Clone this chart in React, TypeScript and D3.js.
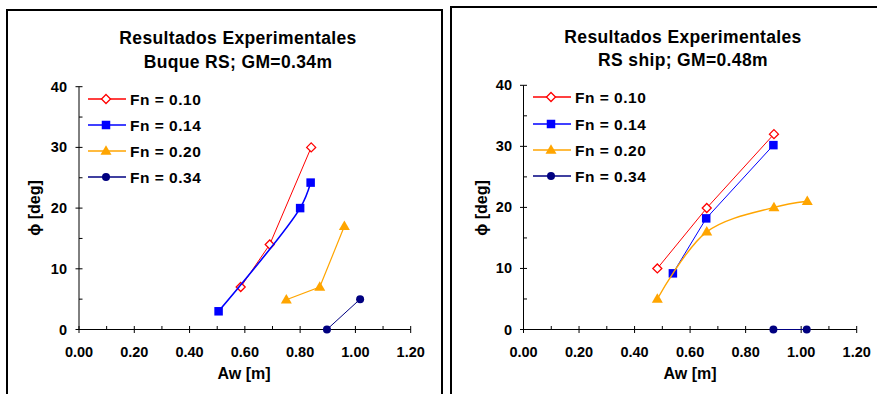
import React from "react";
import * as d3 from "d3";

type Pt = [number, number];

const xTicks = [0, 0.2, 0.4, 0.6, 0.8, 1.0, 1.2];
const yTicks = [0, 10, 20, 30, 40];
const seriesNames = ["Fn = 0.10", "Fn = 0.14", "Fn = 0.20", "Fn = 0.34"];
const seriesColors = ["#FF0000", "#0000FF", "#FFA500", "#000080"];
const seriesMarkers = ["diamond", "square", "triangle", "circle"];

const titleLeft = ["Resultados Experimentales", "Buque RS; GM=0.34m"];
const titleRight = ["Resultados Experimentales", "RS ship; GM=0.48m"];

const left010: Pt[] = [[0.585, 7], [0.69, 14], [0.84, 30]];
const left014: Pt[] = [[0.505, 3], [0.80, 20], [0.838, 24.2]];
const left020: Pt[] = [[0.75, 4.9], [0.871, 7], [0.96, 17]];
const left034: Pt[] = [[0.897, 0], [1.017, 5]];

const right010: Pt[] = [[0.482, 10], [0.66, 19.9], [0.902, 32]];
const right014: Pt[] = [[0.538, 9.2], [0.658, 18.2], [0.90, 30.2]];
const right020: Pt[] = [[0.482, 5], [0.66, 16], [0.902, 20], [1.022, 21]];
const right034: Pt[] = [[0.90, 0], [1.02, 0]];

const FONT = "'Liberation Sans', Arial, sans-serif";

function Marker({ kind, x, y, color }: { kind: string; x: number; y: number; color: string }) {
  if (kind === "diamond") {
    const r = 4.5;
    return (
      <path
        d={`M${x},${y - r}L${x + r},${y}L${x},${y + r}L${x - r},${y}Z`}
        fill="#fff"
        stroke={color}
        strokeWidth={1.3}
      />
    );
  }
  if (kind === "square") {
    const s = 8.5;
    return <rect x={x - s / 2} y={y - s / 2} width={s} height={s} fill={color} />;
  }
  if (kind === "triangle") {
    const w = 11, h = 9.5;
    return <path d={`M${x},${y - h * 0.6}L${x + w / 2},${y + h * 0.4}L${x - w / 2},${y + h * 0.4}Z`} fill={color} />;
  }
  return <circle cx={x} cy={y} r={4} fill={color} />;
}

interface PanelProps {
  x0: number; x1: number; y0: number; y1: number;
  title: string[]; titleX: number; titleY: number[];
  series: Pt[][]; smooth: boolean[]; widths: number[];
  legendX: number; legendY: number[];
  yLabelX: number; yTitleX: number; xTitleX: number;
}

function Panel(p: PanelProps) {
  const xs = d3.scaleLinear().domain([0, 1.2]).range([p.x0, p.x1]);
  const ys = d3.scaleLinear().domain([0, 40]).range([p.y0, p.y1]);
  const minorX = d3.range(0.1, 1.2, 0.2);
  const minorY = d3.range(5, 40, 10);
  return (
    <g>
      {p.title.map((t, i) => (
        <text key={i} x={p.titleX} y={p.titleY[i]} textAnchor="middle" fontFamily={FONT} fontWeight="bold" fontSize={17.5} letterSpacing={0.35} fill="#000">
          {t}
        </text>
      ))}
      <line x1={xs(0)} x2={xs(1.2)} y1={ys(0)} y2={ys(0)} stroke="#000" strokeWidth={1} />
      <line x1={xs(0)} x2={xs(0)} y1={ys(0)} y2={ys(40)} stroke="#000" strokeWidth={1} />
      {xTicks.map((t) => (
        <g key={"xt" + t}>
          <line x1={xs(t)} x2={xs(t)} y1={ys(0) - 3.5} y2={ys(0) + 3.5} stroke="#000" />
          <text x={xs(t)} y={ys(0) + 27} textAnchor="middle" fontFamily={FONT} fontWeight="bold" fontSize={14.5}>
            {t.toFixed(2)}
          </text>
        </g>
      ))}
      {minorX.map((t) => (
        <line key={"mx" + t} x1={xs(t)} x2={xs(t)} y1={ys(0) - 3.5} y2={ys(0)} stroke="#000" />
      ))}
      {yTicks.map((t) => (
        <g key={"yt" + t}>
          <line x1={xs(0) - 3.5} x2={xs(0) + 3.5} y1={ys(t)} y2={ys(t)} stroke="#000" />
          <text x={p.yLabelX} y={ys(t) + 5} textAnchor="end" fontFamily={FONT} fontWeight="bold" fontSize={14.5}>
            {t}
          </text>
        </g>
      ))}
      {minorY.map((t) => (
        <line key={"my" + t} x1={xs(0)} x2={xs(0) + 3.5} y1={ys(t)} y2={ys(t)} stroke="#000" />
      ))}
      <text x={p.xTitleX} y={379} textAnchor="middle" fontFamily={FONT} fontWeight="bold" fontSize={16}>
        Aw [m]
      </text>
      <text
        transform={`translate(${p.yTitleX},208) rotate(-90)`}
        textAnchor="middle"
        fontFamily={FONT}
        fontWeight="bold"
        fontSize={16}
      >
        ϕ [deg]
      </text>
      {p.series.map((s, i) => {
        const line = d3
          .line<Pt>()
          .x((d) => xs(d[0]))
          .y((d) => ys(d[1]))
          .curve(p.smooth[i] ? d3.curveCatmullRom.alpha(0.5) : d3.curveLinear);
        return (
          <g key={"s" + i}>
            <path d={line(s) || ""} fill="none" stroke={seriesColors[i]} strokeWidth={p.widths[i]} />
            {s.map((d, j) => (
              <Marker key={j} kind={seriesMarkers[i]} x={xs(d[0])} y={ys(d[1])} color={seriesColors[i]} />
            ))}
          </g>
        );
      })}
      {seriesNames.map((n, i) => (
        <g key={"lg" + i}>
          <line x1={p.legendX} x2={p.legendX + 38} y1={p.legendY[i]} y2={p.legendY[i]} stroke={seriesColors[i]} strokeWidth={1.3} />
          <Marker kind={seriesMarkers[i]} x={p.legendX + 18} y={p.legendY[i]} color={seriesColors[i]} />
          <text x={p.legendX + 42} y={p.legendY[i] + 5.5} fontFamily={FONT} fontWeight="bold" fontSize={15.5} letterSpacing={0.5}>
            {n}
          </text>
        </g>
      ))}
    </g>
  );
}

export default function App() {
  return (
    <svg width={877} height={394} style={{ position: "absolute", left: 0, top: 0, background: "#fff" }}>
      <rect x={0} y={0} width={877} height={394} fill="#fff" />
      <path d="M7,400 V10 H442 V400" fill="none" stroke="#000" strokeWidth={2} />
      <path d="M451,400 V7 H890" fill="none" stroke="#000" strokeWidth={2} />
      <Panel
        x0={79} x1={410.7} y0={329.5} y1={86.7}
        title={titleLeft} titleX={238} titleY={[44, 68]}
        series={[left010, left014, left020, left034]}
        smooth={[false, true, false, false]}
        widths={[1, 1.6, 1.2, 1]}
        legendX={88} legendY={[99, 125, 151, 177]}
        yLabelX={67} yTitleX={40} xTitleX={244}
      />
      <Panel
        x0={523.5} x1={856.7} y0={329.5} y1={85.3}
        title={titleRight} titleX={683} titleY={[43, 66]}
        series={[right010, right014, right020, right034]}
        smooth={[false, false, true, false]}
        widths={[1, 1, 1.4, 1]}
        legendX={533} legendY={[97, 124, 150, 176]}
        yLabelX={512} yTitleX={487} xTitleX={690}
      />
    </svg>
  );
}
